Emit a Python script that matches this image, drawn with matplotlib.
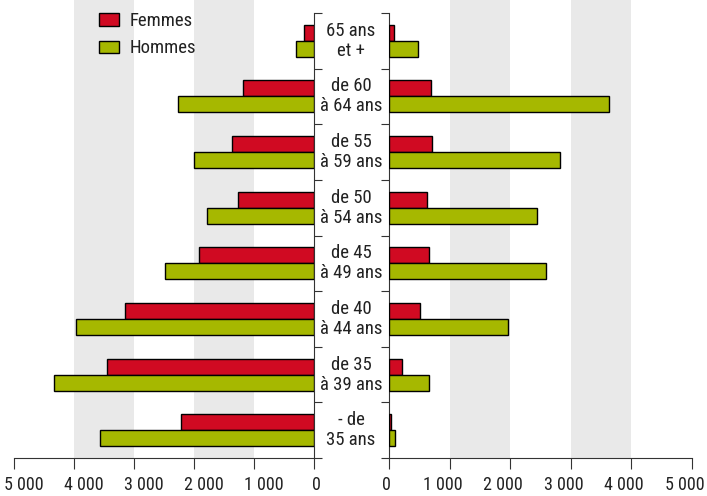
import numpy as np
import matplotlib
matplotlib.use("Agg")
import matplotlib.pyplot as plt
import matplotlib.transforms as mtransforms
from matplotlib.patches import Patch

plt.rcParams['font.family'] = ['Roboto Condensed', 'DejaVu Sans']

# age groups, bottom to top
ages = ["- de\n35 ans", "de 35\nà 39 ans", "de 40\nà 44 ans", "de 45\nà 49 ans",
        "de 50\nà 54 ans", "de 55\nà 59 ans", "de 60\nà 64 ans", "65 ans\net +"]

femmes_left = [2220, 3450, 3150, 1920, 1260, 1370, 1180, 160]
hommes_left = [3570, 4330, 3970, 2480, 1790, 2000, 2260, 300]
femmes_right = [35, 210, 500, 660, 620, 700, 695, 85]
hommes_right = [95, 650, 1960, 2590, 2440, 2820, 3625, 480]

ticks = [0, 1000, 2000, 3000, 4000, 5000]
tick_labels = ["0", "1 000", "2 000", "3 000", "4 000", "5 000"]

RED = "#d00a22"
GREEN = "#a6b800"
BAND = "#e9e9e9"
TXT = "#222222"
FS = 13.5

W, H = 707, 496
fig = plt.figure(figsize=(W / 100, H / 100), dpi=100)

bottom_px = 458
ax_l = fig.add_axes([14 / W, (H - bottom_px) / H, 300 / W, bottom_px / H])
ax_r = fig.add_axes([389.3 / W, (H - bottom_px) / H, 302.4 / W, bottom_px / H])

y = np.arange(len(ages))
bh = 0.288
cat_px = (bottom_px - 13) / len(ages)
ytop = len(ages) - 0.5 + 13 / cat_px


def style(ax, side):
    ax.set_ylim(-0.5, ytop)
    ax.set_xlim(0, 5000)
    for b0 in (1000, 3000):
        ax.axvspan(b0, b0 + 1000, color=BAND, lw=0, zorder=0)
    for s in ("top", "left", "right"):
        ax.spines[s].set_visible(False)
    ax.spines[side].set_visible(True)
    ax.spines[side].set_bounds(-0.5, len(ages) - 0.5)
    ax.spines[side].set_color("#333333")
    ax.spines["bottom"].set_color("#333333")
    ax.set_yticks(np.arange(-0.5, len(ages), 1.0))
    ax.set_yticklabels([])
    if side == "right":
        ax.yaxis.tick_right()
    else:
        ax.yaxis.tick_left()
    ax.tick_params(axis="y", direction="out", length=6, color="#333333")
    ax.set_xticks(ticks)
    ax.set_xticklabels(tick_labels)
    ax.tick_params(axis="x", direction="out", length=8, pad=5,
                   color="#333333", labelsize=13, labelcolor=TXT)
    ax.patch.set_visible(False)


style(ax_l, "right")
style(ax_r, "left")
ax_l.invert_xaxis()

kw = dict(height=bh, edgecolor="black", linewidth=1, zorder=3)
ax_l.barh(y + bh / 2, femmes_left, color=RED, **kw)
ax_l.barh(y - bh / 2, hommes_left, color=GREEN, **kw)
ax_r.barh(y + bh / 2, femmes_right, color=RED, **kw)
ax_r.barh(y - bh / 2, hommes_right, color=GREEN, **kw)

# nudge the tick labels a little off their ticks
for lab, val in zip(ax_l.get_xticklabels(), ticks):
    dx = 2 if val == 0 else 10
    lab.set_transform(lab.get_transform() +
                      mtransforms.ScaledTranslation(dx / 100, 0, fig.dpi_scale_trans))
for lab, val in zip(ax_r.get_xticklabels(), ticks):
    dx = -3 if val == 0 else -7
    lab.set_transform(lab.get_transform() +
                      mtransforms.ScaledTranslation(dx / 100, 0, fig.dpi_scale_trans))

# age group labels in the gap between the two panels
trans = mtransforms.blended_transform_factory(ax_r.transAxes, ax_r.transData)
for yi, lab in zip(y, ages):
    ax_r.text(-38.3 / 302.4, yi, lab, transform=trans, ha="center", va="center",
              multialignment="center", fontsize=FS, color=TXT, linespacing=1.15,
              clip_on=False)

handles = [Patch(facecolor=RED, edgecolor="black", label="Femmes"),
           Patch(facecolor=GREEN, edgecolor="black", label="Hommes")]
leg = fig.legend(handles=handles, loc="upper left", bbox_to_anchor=(84 / W, 1 + 3 / H),
                 frameon=False, fontsize=FS, handlelength=1.07, handleheight=0.64,
                 handletextpad=0.55, labelspacing=0.5, borderpad=0.3)
for t in leg.get_texts():
    t.set_color(TXT)

fig.savefig("out.png", dpi=100)
